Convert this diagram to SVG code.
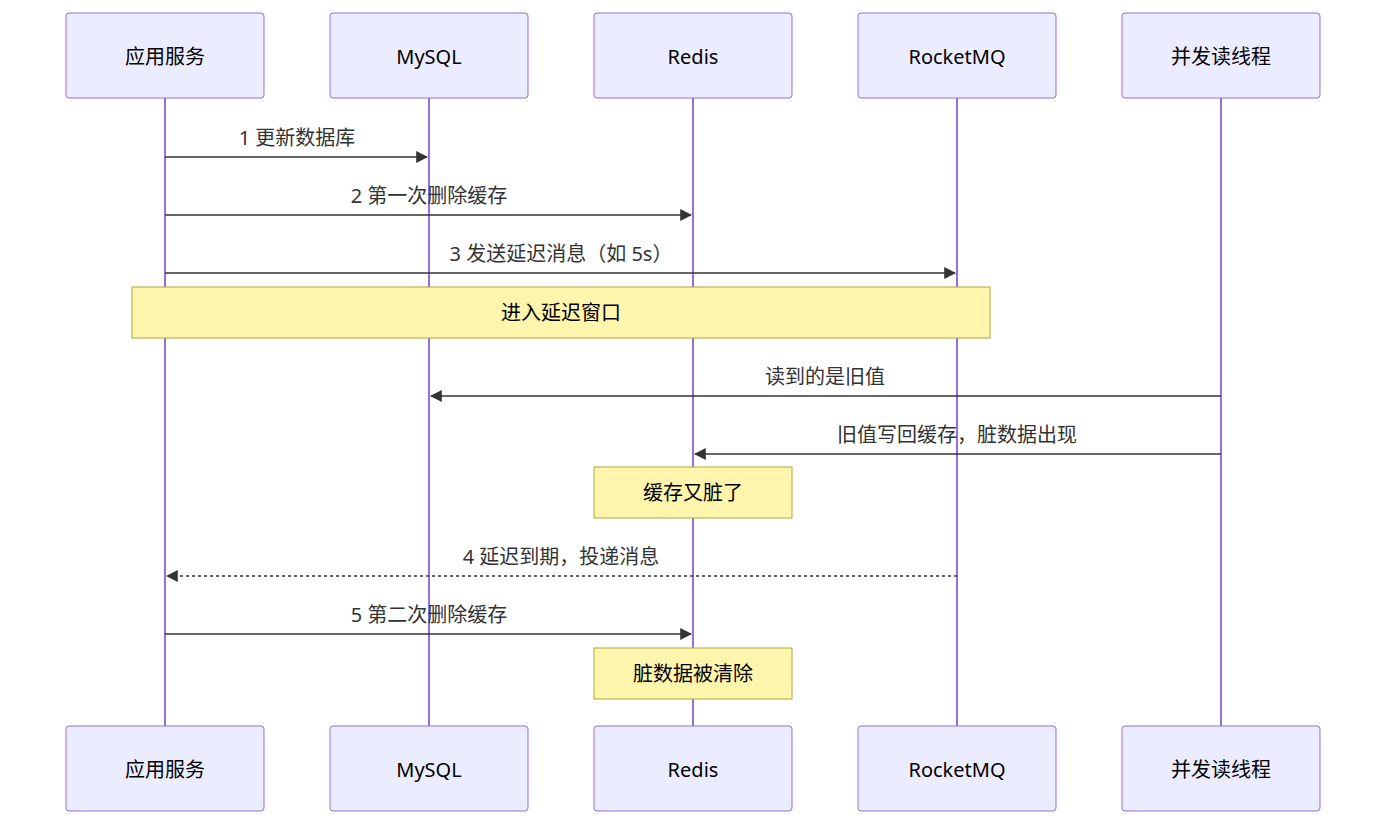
<svg xmlns="http://www.w3.org/2000/svg" width="1400" height="836" viewBox="0 0 1400 836">
<style>
.actor{fill:#ECECFF;stroke:#9370DB;stroke-width:1}
.life{stroke:#9370DB;stroke-width:2}
.note{fill:#FFF5AD;stroke:#AAAA33;stroke-width:1}
text{font-family:"Noto Sans","Noto Sans CJK SC",sans-serif;font-size:20px;fill:#333;text-anchor:middle}
.at{fill:#000;dominant-baseline:central}
.msg{stroke:#333;stroke-width:1.5;fill:none}
</style>
<defs><marker id="ah" viewBox="0 0 10 10" refX="9" refY="5" markerWidth="8" markerHeight="8" orient="auto-start-reverse"><path d="M0,0L10,5L0,10z" fill="#333"/></marker></defs>
<rect width="1400" height="836" fill="#fff"/>
<g id="lifelines">
<line class="life" x1="165" y1="98" x2="165" y2="726"/><line class="life" x1="429" y1="98" x2="429" y2="726"/><line class="life" x1="693" y1="98" x2="693" y2="726"/><line class="life" x1="957" y1="98" x2="957" y2="726"/><line class="life" x1="1221" y1="98" x2="1221" y2="726"/>
</g>
<g id="app"><rect class="actor" x="66" y="13" width="198" height="85" rx="3"/><text class="at" x="165" y="56">应用服务</text><rect class="actor" x="66" y="726" width="198" height="85" rx="3"/><text class="at" x="165" y="769">应用服务</text></g>
<g id="mysql"><rect class="actor" x="330" y="13" width="198" height="85" rx="3"/><text class="at" x="429" y="56">MySQL</text><rect class="actor" x="330" y="726" width="198" height="85" rx="3"/><text class="at" x="429" y="769">MySQL</text></g>
<g id="redis"><rect class="actor" x="594" y="13" width="198" height="85" rx="3"/><text class="at" x="693" y="56">Redis</text><rect class="actor" x="594" y="726" width="198" height="85" rx="3"/><text class="at" x="693" y="769">Redis</text></g>
<g id="mq"><rect class="actor" x="858" y="13" width="198" height="85" rx="3"/><text class="at" x="957" y="56">RocketMQ</text><rect class="actor" x="858" y="726" width="198" height="85" rx="3"/><text class="at" x="957" y="769">RocketMQ</text></g>
<g id="reader"><rect class="actor" x="1122" y="13" width="198" height="85" rx="3"/><text class="at" x="1221" y="56">并发读线程</text><rect class="actor" x="1122" y="726" width="198" height="85" rx="3"/><text class="at" x="1221" y="769">并发读线程</text></g>
<g id="note1"><rect class="note" x="132" y="287" width="858" height="51"/><text class="at" x="561" y="312">进入延迟窗口</text></g>
<g id="note2"><rect class="note" x="594" y="467" width="198" height="51"/><text class="at" x="693" y="492">缓存又脏了</text></g>
<g id="note3"><rect class="note" x="594" y="648" width="198" height="51"/><text class="at" x="693" y="673">脏数据被清除</text></g>
<g id="connectors">
<line class="msg" x1="165" y1="157" x2="427" y2="157" marker-end="url(#ah)"/><text x="297" y="145">1 更新数据库</text>
<line class="msg" x1="165" y1="215" x2="691" y2="215" marker-end="url(#ah)"/><text x="429" y="203">2 第一次删除缓存</text>
<line class="msg" x1="165" y1="273" x2="955" y2="273" marker-end="url(#ah)"/><text x="561" y="261">3 发送延迟消息（如 5s）</text>
<line class="msg" x1="1221" y1="396" x2="431" y2="396" marker-end="url(#ah)"/><text x="825" y="384">读到的是旧值</text>
<line class="msg" x1="1221" y1="454" x2="695" y2="454" marker-end="url(#ah)"/><text x="957" y="442">旧值写回缓存，脏数据出现</text>
<line class="msg" x1="957" y1="576" x2="167" y2="576" stroke-dasharray="3,3" marker-end="url(#ah)"/><text x="561" y="564">4 延迟到期，投递消息</text>
<line class="msg" x1="165" y1="634" x2="691" y2="634" marker-end="url(#ah)"/><text x="429" y="622">5 第二次删除缓存</text>
</g>
</svg>
